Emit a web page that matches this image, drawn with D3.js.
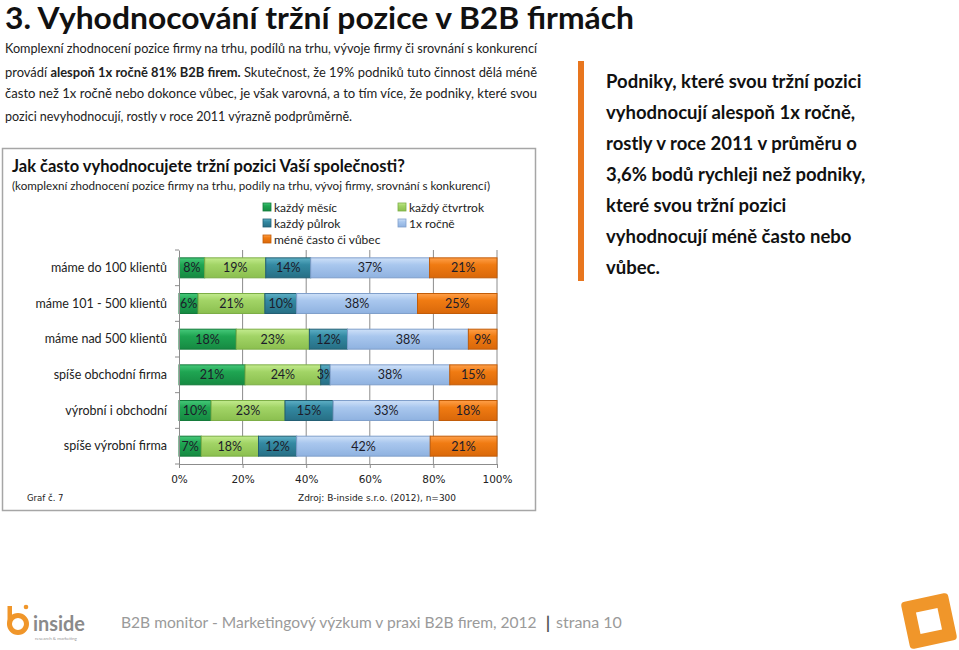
<!DOCTYPE html>
<html><head><meta charset="utf-8">
<script src="https://cdn.jsdelivr.net/npm/d3@7/dist/d3.min.js"></script>
<style>
html,body{margin:0;padding:0;background:#fff;}
svg{display:block;font-family:Lato,"Open Sans",sans-serif;}
</style></head>
<body>
<svg id="c" width="959" height="650"></svg>
<script>
// ---- data ----
const categories = ["máme do 100 klientů","máme 101 - 500 klientů","máme nad 500 klientů","spíše obchodní firma","výrobní i obchodní","spíše výrobní firma"];
const seriesNames = ["každý měsíc","každý čtvrtrok","každý půlrok","1x ročně","méně často či vůbec"];
const monthly   = [8, 6, 18, 21, 10, 7];
const quarterly = [19, 21, 23, 24, 23, 18];
const halfYear  = [14, 10, 12, 3, 15, 12];
const yearly    = [37, 38, 38, 38, 33, 42];
const lessOften = [21, 25, 9, 15, 18, 21];
const xTickValues = [0, 0.2, 0.4, 0.6, 0.8, 1];
const xTickLabels = ["0%","20%","40%","60%","80%","100%"];

const seriesValues = [monthly, quarterly, halfYear, yearly, lessOften];
const colors = [
  {top:"#46c97a", mid:"#1fa552", bot:"#168a42", stroke:"#137a3a"},
  {top:"#c3eb8e", mid:"#a2d466", bot:"#8bbf4f", stroke:"#7cae45"},
  {top:"#5fb0c6", mid:"#3389a2", bot:"#276f85", stroke:"#225f73"},
  {top:"#cfe1f8", mid:"#a9c7ee", bot:"#8fb2e0", stroke:"#7f9fcb"},
  {top:"#ffa04a", mid:"#f07b12", bot:"#d9680a", stroke:"#c25c08"}
];

const svg = d3.select("#c");
const defs = svg.append("defs");
colors.forEach((c,i)=>{
  const g = defs.append("linearGradient").attr("id","g"+i).attr("x1",0).attr("y1",0).attr("x2",0).attr("y2",1);
  g.append("stop").attr("offset","0%").attr("stop-color",c.top);
  g.append("stop").attr("offset","35%").attr("stop-color",c.mid);
  g.append("stop").attr("offset","100%").attr("stop-color",c.bot);
});

// fit a text element to a target width by adjusting its font size
function fitWidth(sel, target){
  const n = sel.node();
  const fs = parseFloat(sel.attr("font-size") || getComputedStyle(n).fontSize);
  const w = n.getComputedTextLength();
  if (w > 0) sel.attr("font-size", fs*target/w);
  return sel;
}

// ---- page title & text ----
svg.append("text").attr("x",5).attr("y",29).attr("font-size",30).attr("font-weight","bold")
  .attr("fill","#111").attr("textLength",629).attr("lengthAdjust","spacingAndGlyphs")
  .text("3. Vyhodnocování tržní pozice v B2B firmách");

const para = svg.append("g").attr("font-size",13).attr("fill","#222");
para.append("text").attr("x",5).attr("y",53).attr("textLength",532).attr("lengthAdjust","spacingAndGlyphs")
  .text("Komplexní zhodnocení pozice firmy na trhu, podílů na trhu, vývoje firmy či srovnání s konkurencí");
const l2 = para.append("text").attr("x",5).attr("y",77).attr("textLength",532).attr("lengthAdjust","spacingAndGlyphs");
l2.append("tspan").text("provádí ");
l2.append("tspan").attr("font-weight","bold").text("alespoň 1x ročně 81% B2B firem.");
l2.append("tspan").text(" Skutečnost, že 19% podniků tuto činnost dělá méně");
para.append("text").attr("x",5).attr("y",98).attr("textLength",532).attr("lengthAdjust","spacingAndGlyphs")
  .text("často než 1x ročně nebo dokonce vůbec, je však varovná, a to tím více, že podniky, které svou");
para.append("text").attr("x",5).attr("y",121).attr("textLength",347).attr("lengthAdjust","spacingAndGlyphs")
  .text("pozici nevyhodnocují, rostly v roce 2011 výrazně podprůměrně.");

// ---- right callout ----
svg.append("rect").attr("x",578).attr("y",61).attr("width",6).attr("height",220).attr("fill","#e8761e");
const rightLines = ["Podniky, které svou tržní pozici","vyhodnocují alespoň 1x ročně,","rostly v roce 2011 v průměru o","3,6% bodů rychleji než podniky,","které svou tržní pozici","vyhodnocují méně často nebo","vůbec."];
svg.append("g").attr("font-size",18.5).attr("font-weight","bold").attr("fill","#111")
  .selectAll("text").data(rightLines).join("text")
  .attr("x",606).attr("y",(d,i)=>88+i*31).text(d=>d);

// ---- chart frame ----
svg.append("rect").attr("x",2.5).attr("y",148.5).attr("width",533).attr("height",362)
  .attr("fill","none").attr("stroke","#a6a6a6").attr("stroke-width",1.5);
svg.append("text").attr("x",12).attr("y",172).attr("font-size",16.5).attr("font-weight","bold").attr("fill","#111")
  .text("Jak často vyhodnocujete tržní pozici Vaší společnosti?");
svg.append("text").attr("x",12).attr("y",190).attr("font-size",11.5).attr("fill","#222")
  .attr("textLength",478).attr("lengthAdjust","spacingAndGlyphs")
  .text("(komplexní zhodnocení pozice firmy na trhu, podíly na trhu, vývoj firmy, srovnání s konkurencí)");

// legend
const legPos = [[263,207],[398,207],[263,223],[398,223],[263,239]];
const leg = svg.append("g").selectAll("g").data(seriesNames).join("g")
  .attr("transform",(d,i)=>`translate(${legPos[i][0]},${legPos[i][1]})`);
leg.append("rect").attr("x",0).attr("y",-4).attr("width",8).attr("height",8)
  .attr("fill",(d,i)=>`url(#g${i})`).attr("stroke",(d,i)=>colors[i].stroke).attr("stroke-width",0.8);
leg.append("text").attr("x",11).attr("y",4.5).attr("font-size",12).attr("fill","#222").text(d=>d);

// ---- scales ----
const x = d3.scaleLinear().domain([0,1]).range([179,497]);
const y = d3.scaleBand().domain(categories).range([250,464]).paddingInner(0.44).paddingOuter(0.22);

const rows = categories.map((c,i)=>{const o={cat:c}; seriesNames.forEach((s,j)=>o[s]=seriesValues[j][i]); return o;});
const stacked = d3.stack().keys(seriesNames).offset(d3.stackOffsetExpand)(rows);

// gridlines
svg.append("g").selectAll("line").data(xTickValues.slice(1)).join("line")
  .attr("x1",d=>x(d)).attr("x2",d=>x(d)).attr("y1",250).attr("y2",464)
  .attr("stroke","#8c8c8c").attr("stroke-width",1);

// bars
const layers = svg.append("g").selectAll("g").data(stacked).join("g");
layers.selectAll("rect").data((d,i)=>d.map(v=>({v,i}))).join("rect")
  .attr("x",d=>x(d.v[0])).attr("width",d=>x(d.v[1])-x(d.v[0]))
  .attr("y",d=>y(d.v.data.cat)).attr("height",y.bandwidth())
  .attr("fill",d=>`url(#g${d.i})`).attr("stroke",d=>colors[d.i].stroke).attr("stroke-width",1);
layers.selectAll("text").data((d,i)=>d.map(v=>({v,i,key:d.key}))).join("text")
  .attr("x",d=>(x(d.v[0])+x(d.v[1]))/2).attr("y",d=>y(d.v.data.cat)+y.bandwidth()/2+4.5)
  .attr("text-anchor","middle").attr("font-size",12.5).attr("fill","#1c1c2a")
  .text(d=>d.v.data[d.key]+"%");

// y axis
const yAxis = d3.axisLeft(y).tickSize(0).tickPadding(12);
const ya = svg.append("g").attr("transform","translate(179,0)").call(yAxis);
ya.select(".domain").attr("stroke","#8c8c8c");
ya.selectAll("text").attr("font-family","Lato,sans-serif").attr("font-size",12.5).attr("fill","#222");
// boundary ticks on y axis
const bounds = d3.range(categories.length+1).map(i=>250+i*(214/categories.length));
svg.append("g").selectAll("line").data(bounds).join("line")
  .attr("x1",175).attr("x2",179).attr("y1",d=>d).attr("y2",d=>d).attr("stroke","#8c8c8c");

// x axis
const xAxis = d3.axisBottom(x).tickValues(xTickValues).tickFormat((d,i)=>xTickLabels[i]).tickSizeInner(4).tickSizeOuter(0).tickPadding(8);
const xa = svg.append("g").attr("transform","translate(0,464)").call(xAxis);
xa.select(".domain").attr("stroke","#8c8c8c");
xa.selectAll(".tick line").attr("stroke","#8c8c8c");
xa.selectAll("text").attr("font-family","DejaVu Sans,sans-serif").attr("font-size",10.5).attr("fill","#222");

// footnotes in frame
svg.append("text").attr("x",27).attr("y",501).attr("font-family","DejaVu Sans,sans-serif").attr("font-size",8.5).attr("fill","#222").text("Graf č. 7");
svg.append("text").attr("x",298).attr("y",501).attr("font-family","DejaVu Sans,sans-serif").attr("font-size",8.5).attr("fill","#222")
  .attr("textLength",158).attr("lengthAdjust","spacingAndGlyphs").text("Zdroj: B-inside s.r.o. (2012), n=300");

// ---- footer ----
const footer = svg.append("g").attr("fill","#9a9a9a");
fitWidth(footer.append("text").attr("x",121).attr("y",628).attr("font-size",17)
  .text("B2B monitor - Marketingový výzkum v praxi B2B firem, 2012"), 416);
footer.append("text").attr("x",548).attr("y",629).attr("font-size",17).attr("text-anchor","middle").attr("font-weight","bold").attr("fill","#555").text("|");
fitWidth(footer.append("text").attr("x",556).attr("y",628).attr("font-size",17).text("strana 10"), 66);

// left logo
const lg = svg.append("g");
lg.append("circle").attr("cx",18).attr("cy",624).attr("r",8.5).attr("fill","none").attr("stroke","#f0962a").attr("stroke-width",5);
lg.append("path").attr("d","M7.5 606 L12 606 L12 624 L7.5 624 Z").attr("fill","#f0962a");
lg.append("circle").attr("cx",26).attr("cy",607).attr("r",2.3).attr("fill","#f0962a");
lg.append("text").attr("x",33).attr("y",631).attr("font-size",20).attr("font-weight","bold").attr("fill","#8a8a8a")
  .attr("textLength",52).attr("lengthAdjust","spacingAndGlyphs").text("inside");
lg.append("text").attr("x",35).attr("y",640).attr("font-size",4.5).attr("fill","#999").text("research & marketing");

// right logo
const rl = svg.append("g").attr("transform","translate(929,621) rotate(-12)");
rl.append("rect").attr("x",-24).attr("y",-24).attr("width",48).attr("height",48).attr("rx",4).attr("fill","#f0962a");
rl.append("rect").attr("x",-11).attr("y",-11).attr("width",22).attr("height",22).attr("fill","#fff");
</script>
</body></html>
